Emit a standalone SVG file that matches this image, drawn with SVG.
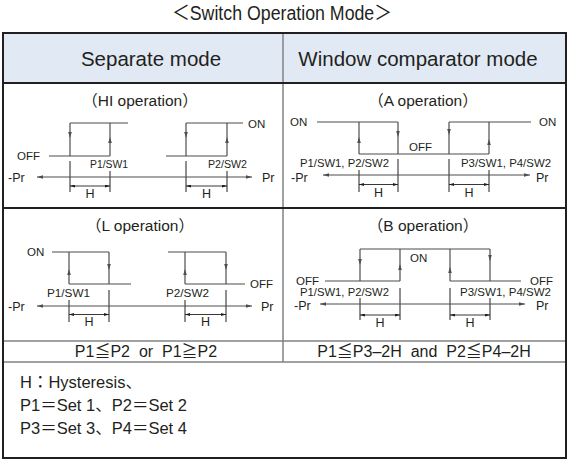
<svg xmlns="http://www.w3.org/2000/svg" width="571" height="463" viewBox="0 0 571 463">
<style>
text{font-family:"Liberation Sans","Noto Sans CJK JP",Arial,sans-serif;fill:#231f20}
.ttl{font-size:20px}
.hdr{font-size:20.5px;text-anchor:middle}
.op{font-size:15.5px;text-anchor:middle}
.st{font-size:11.5px}
.lb{font-size:10px}
.lw{font-size:10.5px}
.pr{font-size:12.5px}
.h{font-size:12.5px;text-anchor:middle}
.cond{font-size:16px;text-anchor:middle}
.note{font-size:16.5px}
.sig{fill:none;stroke:#4d4d4f;stroke-width:1.2;marker-mid:url(#mid)}
.lvl{fill:none;stroke:#4d4d4f;stroke-width:1.2}
.tick{fill:none;stroke:#231f20;stroke-width:1}
.axis{fill:none;stroke:#4d4d4f;stroke-width:1;marker-start:url(#ah);marker-end:url(#ah)}
.dim{fill:none;stroke:#231f20;stroke-width:0.9;marker-start:url(#dh);marker-end:url(#dh)}
.grid{fill:none;stroke:#808285;stroke-width:1.5}
.dark{fill:none;stroke:#231f20;stroke-width:2}
</style>
<defs>
<marker id="ah" viewBox="0 0 10 6" refX="10" refY="3" markerWidth="6" markerHeight="3.6" markerUnits="userSpaceOnUse" orient="auto-start-reverse"><path d="M0,0 L10,3 L0,6 z" fill="#4d4d4f"/></marker>
<marker id="dh" viewBox="0 0 10 6" refX="10" refY="3" markerWidth="5" markerHeight="3" markerUnits="userSpaceOnUse" orient="auto-start-reverse"><path d="M0,0 L10,3 L0,6 z" fill="#231f20"/></marker>
<marker id="mid" viewBox="0 0 10 6" refX="5" refY="3" markerWidth="6" markerHeight="3.6" markerUnits="userSpaceOnUse" orient="auto"><path d="M0,0 L10,3 L0,6 z" fill="#4d4d4f"/></marker>
</defs>

<g id="title">
<text class="ttl" x="172" y="20" textLength="220" lengthAdjust="spacingAndGlyphs">＜Switch Operation Mode＞</text>
</g>

<g id="table">
<rect x="3" y="33" width="563" height="50" fill="#e1e9f4"/>
<line class="grid" x1="283" y1="33" x2="283" y2="362"/>
<line class="grid" x1="3" y1="341" x2="566" y2="341"/>
<line class="grid" x1="3" y1="362" x2="566" y2="362"/>
<line class="dark" x1="3" y1="83" x2="566" y2="83"/>
<line class="dark" x1="3" y1="208" x2="566" y2="208" stroke-width="1.5"/>
<rect class="dark" x="3" y="33" width="563" height="425"/>
</g>

<g id="header-separate"><text class="hdr" x="151" y="66">Separate mode</text></g>
<g id="header-window"><text class="hdr" x="418" y="66">Window comparator mode</text></g>

<g id="panel-hi">
<text class="op" x="140" y="106">（HI operation）</text>
<g id="hi-connectors">
<path class="lvl" d="M49,156 H110 M70,123 H128 M166,156 H227 M186,123 H243"/>
<path class="sig" d="M70,123 V135 V156"/>
<path class="sig" d="M110,156 V140 V123"/>
<path class="sig" d="M186,123 V135 V156"/>
<path class="sig" d="M227,156 V140 V123"/>
<path class="tick" d="M70,161 V192 M110,171 V192 M186,161 V192 M227,171 V192"/>
<path class="axis" d="M37,177 H252"/>
<path class="dim" d="M70,186 H110"/>
<path class="dim" d="M186,186 H227"/>
</g>
<text class="st" x="17" y="160">OFF</text>
<text class="st" x="248" y="128">ON</text>
<text class="lb" x="90" y="168" textLength="38" lengthAdjust="spacingAndGlyphs">P1/SW1</text>
<text class="lb" x="208" y="168" textLength="39" lengthAdjust="spacingAndGlyphs">P2/SW2</text>
<text class="pr" x="8" y="182">-Pr</text>
<text class="pr" x="262" y="182">Pr</text>
<text class="h" x="90" y="198">H</text>
<text class="h" x="206.5" y="198">H</text>
</g>

<g id="panel-a">
<text class="op" x="423" y="106">（A operation）</text>
<g id="a-connectors">
<path class="lvl" d="M317,122 H398 M359,154 H489 M449,122 H531"/>
<path class="sig" d="M359,154 V140 V122"/>
<path class="sig" d="M398,122 V134 V154"/>
<path class="sig" d="M449,122 V132 V154"/>
<path class="sig" d="M489,154 V142 V122"/>
<path class="tick" d="M359,170 V192 M398,159 V192 M449,159 V192 M489,170 V192"/>
<path class="axis" d="M323,175 H530"/>
<path class="dim" d="M359,184.5 H398"/>
<path class="dim" d="M449,184.5 H489"/>
</g>
<text class="st" x="290" y="126">ON</text>
<text class="st" x="539" y="126">ON</text>
<text class="st" x="409" y="151">OFF</text>
<text class="lw" x="300" y="167" textLength="89" lengthAdjust="spacingAndGlyphs">P1/SW1, P2/SW2</text>
<text class="lw" x="461" y="167" textLength="90" lengthAdjust="spacingAndGlyphs">P3/SW1, P4/SW2</text>
<text class="pr" x="291" y="182">-Pr</text>
<text class="pr" x="536" y="182">Pr</text>
<text class="h" x="378.5" y="197">H</text>
<text class="h" x="469" y="197">H</text>
</g>

<g id="panel-l">
<text class="op" x="140" y="231">（L operation）</text>
<g id="l-connectors">
<path class="lvl" d="M52,252 H109 M69,284 H131 M168,252 H226 M185,284 H245"/>
<path class="sig" d="M69,284 V272 V252"/>
<path class="sig" d="M109,252 V267 V284"/>
<path class="sig" d="M185,284 V272 V252"/>
<path class="sig" d="M226,252 V267 V284"/>
<path class="tick" d="M69,300 V322 M109,290 V322 M185,300 V322 M226,290 V322"/>
<path class="axis" d="M37,306 H252"/>
<path class="dim" d="M69,314.5 H109"/>
<path class="dim" d="M185,314.5 H226"/>
</g>
<text class="st" x="27" y="256">ON</text>
<text class="st" x="250" y="288">OFF</text>
<text class="lb" x="47" y="297" textLength="43" lengthAdjust="spacingAndGlyphs">P1/SW1</text>
<text class="lb" x="166" y="297" textLength="43" lengthAdjust="spacingAndGlyphs">P2/SW2</text>
<text class="pr" x="8" y="311">-Pr</text>
<text class="pr" x="261" y="311">Pr</text>
<text class="h" x="89" y="326">H</text>
<text class="h" x="205.5" y="326">H</text>
</g>

<g id="panel-b">
<text class="op" x="423" y="231">（B operation）</text>
<g id="b-connectors">
<path class="lvl" d="M360,249 H490 M325,281 H400 M450,281 H521"/>
<path class="sig" d="M360,249 V262 V281"/>
<path class="sig" d="M400,281 V267 V249"/>
<path class="sig" d="M450,281 V270 V249"/>
<path class="sig" d="M490,249 V258 V281"/>
<path class="tick" d="M360,298 V320 M400,288 V320 M450,288 V320 M490,298 V320"/>
<path class="axis" d="M320,304 H525"/>
<path class="dim" d="M360,315 H400"/>
<path class="dim" d="M450,315 H490"/>
</g>
<text class="st" x="410" y="262">ON</text>
<text class="st" x="296" y="285">OFF</text>
<text class="st" x="530" y="285">OFF</text>
<text class="lw" x="300" y="296" textLength="89" lengthAdjust="spacingAndGlyphs">P1/SW1, P2/SW2</text>
<text class="lw" x="460" y="296" textLength="91" lengthAdjust="spacingAndGlyphs">P3/SW1, P4/SW2</text>
<text class="pr" x="294" y="310">-Pr</text>
<text class="pr" x="536" y="310">Pr</text>
<text class="h" x="380" y="327">H</text>
<text class="h" x="470" y="327">H</text>
</g>

<g id="conditions">
<text class="cond" x="146" y="357" xml:space="preserve">P1≦P2  or  P1≧P2</text>
<text class="cond" x="424" y="357" xml:space="preserve">P1≦P3–2H  and  P2≦P4–2H</text>
</g>

<g id="notes">
<text class="note" x="20" y="388">H：Hysteresis、</text>
<text class="note" x="20" y="411">P1＝Set 1、P2＝Set 2</text>
<text class="note" x="20" y="434">P3＝Set 3、P4＝Set 4</text>
</g>
</svg>
